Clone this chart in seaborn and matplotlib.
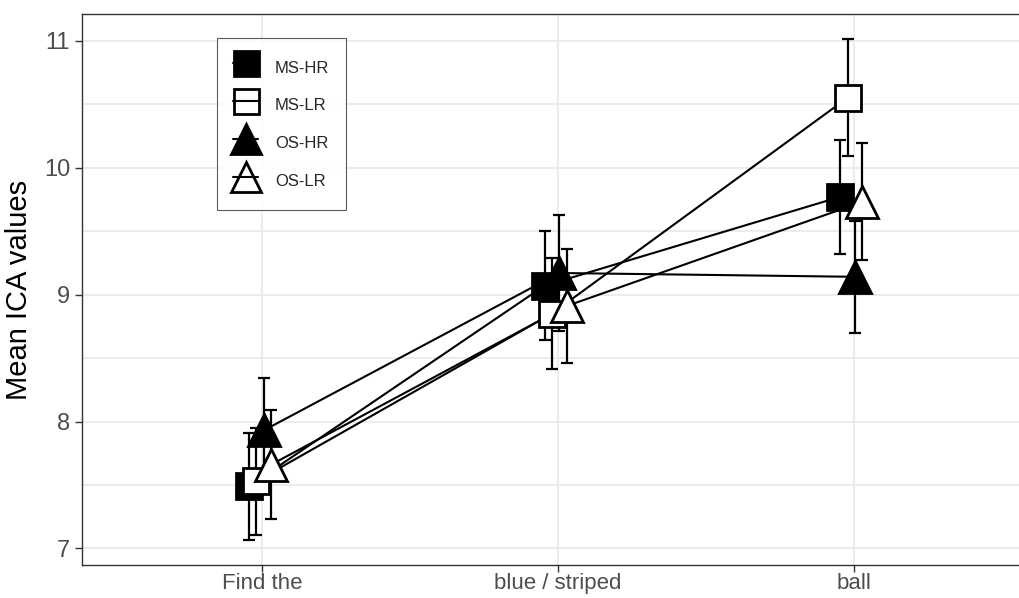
import numpy as np
import pandas as pd
import matplotlib
matplotlib.use("Agg")
import matplotlib.pyplot as plt
import seaborn as sns
from matplotlib.lines import Line2D
from matplotlib.ticker import MultipleLocator

# Data
words = ["Find the", "blue / striped", "ball"]
groups = ["MS-HR", "MS-LR", "OS-HR", "OS-LR"]
ms_hr = [7.49, 9.07, 9.77]
ms_lr = [7.53, 8.85, 10.55]
os_hr = [7.93, 9.17, 9.14]
os_lr = [7.66, 8.91, 9.73]
ms_hr_err = [0.42, 0.43, 0.45]
ms_lr_err = [0.42, 0.44, 0.46]
os_hr_err = [0.41, 0.46, 0.44]
os_lr_err = [0.43, 0.45, 0.46]

means = {"MS-HR": ms_hr, "MS-LR": ms_lr, "OS-HR": os_hr, "OS-LR": os_lr}
errs = {"MS-HR": ms_hr_err, "MS-LR": ms_lr_err, "OS-HR": os_hr_err, "OS-LR": os_lr_err}

rows = []
for g in groups:
    for i, w in enumerate(words):
        rows.append({"group": g, "word": w, "pos": i, "mean": means[g][i], "se": errs[g][i]})
df = pd.DataFrame(rows)

# dodge positions like ggplot position_dodge
dodge = 0.1
offsets = {g: -dodge / 2 + dodge * (k + 0.5) / len(groups) for k, g in enumerate(groups)}
df["x"] = df["pos"] + df["group"].map(offsets) - 0.008

markers = {"MS-HR": "s", "MS-LR": "s", "OS-HR": "^", "OS-LR": "^"}
faces = {"MS-HR": "black", "MS-LR": "white", "OS-HR": "black", "OS-LR": "white"}
sizes = {"MS-HR": 19, "MS-LR": 19, "OS-HR": 23, "OS-LR": 23}

sns.set_theme(style="white")
plt.rcParams["font.family"] = ["Liberation Sans", "DejaVu Sans"]

fig = plt.figure(figsize=(10.19, 5.98), dpi=100)
ax = fig.add_axes([82 / 1019, 33 / 598, 949 / 1019, 551 / 598])

for g in groups:
    d = df[df["group"] == g]
    sns.lineplot(data=d, x="x", y="mean", ax=ax, color="black", lw=1.5,
                 sort=False, legend=False, zorder=2)
    ax.errorbar(d["x"], d["mean"], yerr=d["se"], fmt="none", ecolor="black",
                elinewidth=1.6, capsize=4.5, capthick=1.6, zorder=3)
    ax.plot(d["x"], d["mean"], ls="none", marker=markers[g], ms=sizes[g],
            mfc=faces[g], mec="black", mew=2.0, zorder=4)

ax.set_xlim(-0.61, 2.6)
ax.set_ylim(6.87, 11.21)
ax.set_xticks(range(len(words)))
ax.set_xticklabels(words)
ax.yaxis.set_major_locator(MultipleLocator(1))
ax.yaxis.set_minor_locator(MultipleLocator(0.5))
ax.grid(True, which="both", color="#EBEBEB", lw=1.3, zorder=0)
ax.set_axisbelow(True)
for s in ax.spines.values():
    s.set_color("#333333")
    s.set_linewidth(1.0)
ax.tick_params(axis="both", which="major", length=5, width=1.0, color="#333333",
               labelcolor="#4D4D4D", direction="out", labelsize=17,
               bottom=True, left=True)
ax.tick_params(axis="y", which="minor", length=0)
ax.tick_params(axis="x", labelsize=16, pad=1)
ax.set_xlabel("")
ax.set_ylabel("Mean ICA values", fontsize=21, color="black", labelpad=8)

# legend keys: marker with the line drawn over it, as in the original
handles = []
for g in groups:
    mk = Line2D([], [], ls="none", marker=markers[g], ms=sizes[g] - 1,
                mfc=faces[g], mec="black", mew=2.0)
    ln = Line2D([], [], color="black", lw=1.5)
    handles.append((mk, ln))
leg = ax.legend(handles, groups, loc="upper left", bbox_to_anchor=(0.142, 0.957),
                frameon=True, fancybox=False, edgecolor="#333333", fontsize=12,
                handlelength=1.5, handleheight=2.0, labelspacing=0.72,
                borderpad=1.0, handletextpad=1.0, borderaxespad=0)
leg.get_frame().set_linewidth(0.8)

fig.savefig("out.png", dpi=100)
